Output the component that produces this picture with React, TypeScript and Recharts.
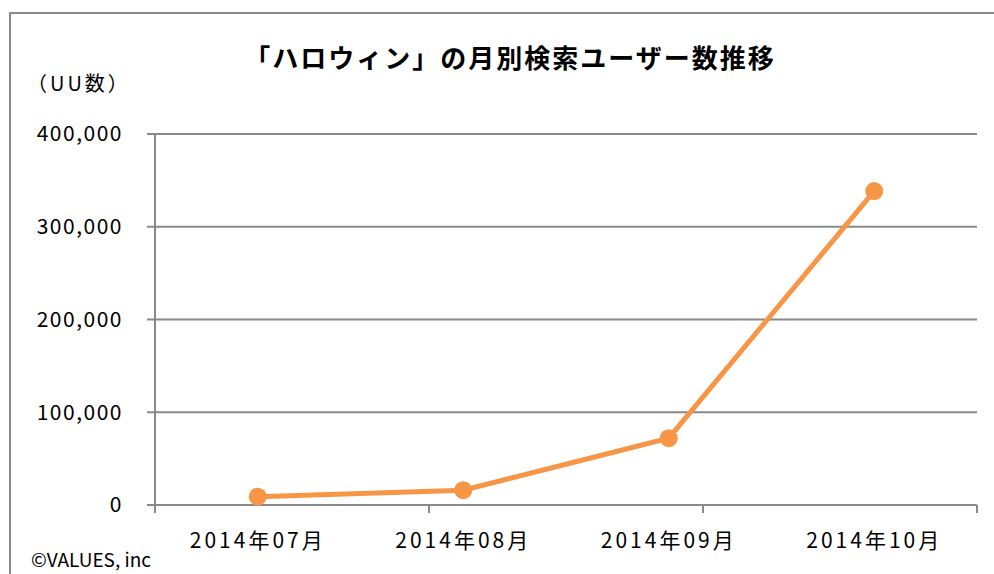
import React from 'react';
import { LineChart, Line, XAxis, YAxis, CartesianGrid } from 'recharts';

const months = ['2014年07月', '2014年08月', '2014年09月', '2014年10月'];
const users = [9000, 16000, 72000, 338500];
const yTicks = [0, 100000, 200000, 300000, 400000];
const bandEdges = [0, 1, 2, 3, 4];

const data = months.map((month, i) => ({ month, users: users[i] }));

const FONT = '"Noto Sans CJK JP", "Noto Sans", sans-serif';
const GRAY = '#898989';
const ORANGE = '#F79646';

const App: React.FC = () => {
  return (
    <div style={{ position: 'absolute', left: 0, top: 0, width: 994, height: 574, overflow: 'hidden', background: '#fff', fontFamily: FONT }}>
      <div style={{ position: 'absolute', left: 9, top: 12, width: 1200, height: 1000, borderLeft: `2px solid ${GRAY}`, borderTop: `2px solid ${GRAY}` }} />
      <div style={{ position: 'absolute', left: 0, width: 1020, top: 38, textAlign: 'center', fontSize: 26, fontWeight: 700, letterSpacing: 2, color: '#000' }}>
        「ハロウィン」の月別検索ユーザー数推移
      </div>
      <div style={{ position: 'absolute', left: 27, top: 68, fontSize: 20, letterSpacing: 3, color: '#000' }}>（UU数）</div>
      <div style={{ position: 'absolute', left: 31, top: 545, fontSize: 19, color: '#000' }}>©VALUES, inc</div>
      <div style={{ position: 'absolute', left: 0, top: 0 }}>
        <LineChart width={994} height={574} data={data} margin={{ top: 134, right: 17, bottom: 29, left: 95 }}>
          <CartesianGrid vertical={false} stroke={GRAY} strokeWidth={2} />
          <XAxis
            xAxisId="a_edges"
            type="number"
            domain={[0, 4]}
            ticks={bandEdges}
            interval={0}
            height={1}
            tick={() => <g />}
            tickSize={8}
            axisLine={{ stroke: GRAY, strokeWidth: 2 }}
            tickLine={{ stroke: GRAY, strokeWidth: 2 }}
          />
          <XAxis
            xAxisId="b_cat"
            dataKey="month"
            scale="band"
            height={39}
            axisLine={false}
            tickLine={false}
            tickSize={8}
            tickMargin={19}
            tick={{ fill: '#000', fontSize: 21, fontFamily: FONT, letterSpacing: 3 }}
          />
          <YAxis
            domain={[0, 400000]}
            ticks={yTicks}
            width={60}
            tickSize={8}
            tickMargin={24}
            tickFormatter={(v: number) => v.toLocaleString('en-US')}
            axisLine={{ stroke: GRAY, strokeWidth: 2 }}
            tickLine={{ stroke: GRAY, strokeWidth: 2 }}
            tick={{ fill: '#000', fontSize: 21, fontFamily: FONT, letterSpacing: 1.5 }}
          />
          <Line
            xAxisId="b_cat"
            type="linear"
            dataKey="users"
            stroke={ORANGE}
            strokeWidth={5}
            dot={{ r: 9, fill: ORANGE, stroke: ORANGE, strokeWidth: 0 }}
            isAnimationActive={false}
          />
        </LineChart>
      </div>
    </div>
  );
};

export default App;
